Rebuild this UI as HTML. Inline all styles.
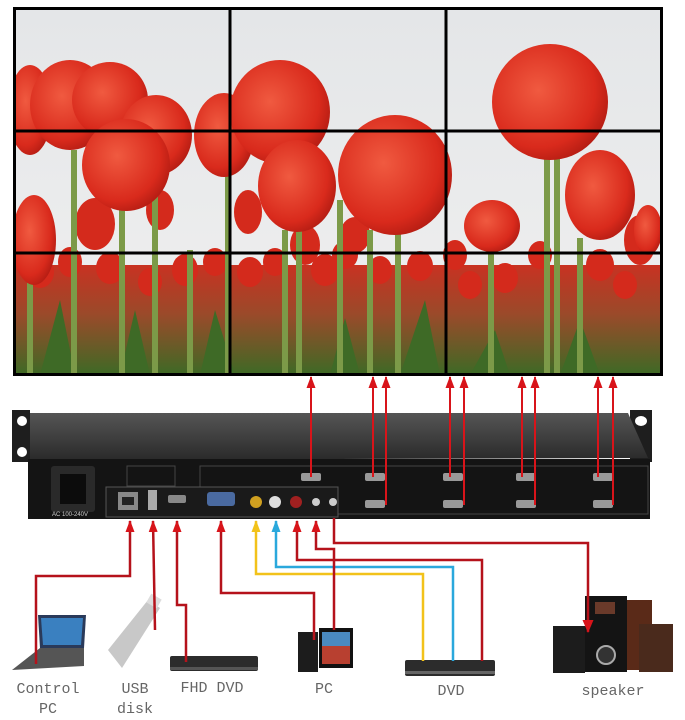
<!DOCTYPE html>
<html><head><meta charset="utf-8"><style>
html,body{margin:0;padding:0;background:#fff;width:685px;height:720px;overflow:hidden}
svg{display:block}
text.l{font-family:"Liberation Mono","Noto Serif CJK SC",monospace;font-size:15px;fill:#666}
</style></head><body>
<svg width="685" height="720" viewBox="0 0 685 720" xmlns="http://www.w3.org/2000/svg">
<defs>
<linearGradient id="sky" x1="0" y1="0" x2="0" y2="1"><stop offset="0" stop-color="#e4e6e8"/><stop offset="1" stop-color="#f0f0f0"/></linearGradient>
<radialGradient id="tul" cx="0.4" cy="0.4" r="0.7"><stop offset="0" stop-color="#f05a40"/><stop offset="0.7" stop-color="#d92a1c"/><stop offset="1" stop-color="#a81810"/></radialGradient>
<linearGradient id="grass" x1="0" y1="0" x2="0" y2="1"><stop offset="0" stop-color="#c83222"/><stop offset="0.45" stop-color="#9a4a2a"/><stop offset="1" stop-color="#3d6a25"/></linearGradient>
<linearGradient id="top" x1="0" y1="0" x2="0" y2="1"><stop offset="0" stop-color="#555"/><stop offset="1" stop-color="#2a2a2a"/></linearGradient>
<marker id="ar" markerWidth="12" markerHeight="9" refX="11" refY="4.5" orient="auto" markerUnits="userSpaceOnUse"><path d="M0,0 L12,4.5 L0,9 Z" fill="#d8141a"/></marker>
<marker id="ay" markerWidth="12" markerHeight="9" refX="11" refY="4.5" orient="auto" markerUnits="userSpaceOnUse"><path d="M0,0 L12,4.5 L0,9 Z" fill="#f2c21a"/></marker>
<marker id="ab" markerWidth="12" markerHeight="9" refX="11" refY="4.5" orient="auto" markerUnits="userSpaceOnUse"><path d="M0,0 L12,4.5 L0,9 Z" fill="#2aa8dc"/></marker>
<marker id="ad" markerWidth="13" markerHeight="11" refX="12" refY="5.5" orient="auto" markerUnits="userSpaceOnUse"><path d="M0,0 L13,5.5 L0,11 Z" fill="#d8141a"/></marker>
<clipPath id="wc"><rect x="14" y="8" width="648" height="367"/></clipPath>
</defs>

<g clip-path="url(#wc)">
<rect x="14" y="8" width="648" height="367" fill="url(#sky)"/>
<rect x="14" y="265" width="648" height="110" fill="url(#grass)"/>
<g fill="#d42a1c">
<ellipse cx="40" cy="272" rx="14" ry="16"/><ellipse cx="70" cy="262" rx="12" ry="15"/><ellipse cx="110" cy="268" rx="14" ry="16"/>
<ellipse cx="150" cy="282" rx="12" ry="14"/><ellipse cx="185" cy="270" rx="13" ry="16"/><ellipse cx="215" cy="262" rx="12" ry="14"/>
<ellipse cx="250" cy="272" rx="13" ry="15"/><ellipse cx="275" cy="262" rx="12" ry="14"/><ellipse cx="325" cy="270" rx="14" ry="16"/>
<ellipse cx="345" cy="255" rx="13" ry="14"/><ellipse cx="380" cy="270" rx="12" ry="14"/><ellipse cx="420" cy="266" rx="13" ry="15"/>
<ellipse cx="455" cy="255" rx="12" ry="15"/><ellipse cx="470" cy="285" rx="12" ry="14"/><ellipse cx="505" cy="278" rx="13" ry="15"/>
<ellipse cx="540" cy="255" rx="12" ry="14"/><ellipse cx="600" cy="265" rx="14" ry="16"/><ellipse cx="640" cy="240" rx="16" ry="25"/>
<ellipse cx="625" cy="285" rx="12" ry="14"/><ellipse cx="95" cy="224" rx="20" ry="26"/><ellipse cx="160" cy="210" rx="14" ry="20"/>
<ellipse cx="248" cy="212" rx="14" ry="22"/><ellipse cx="305" cy="245" rx="15" ry="20"/><ellipse cx="355" cy="235" rx="15" ry="18"/>
</g>
<g fill="#3e6a26">
<path d="M40,375 L60,300 L75,375Z"/><path d="M120,375 L135,310 L150,375Z"/><path d="M200,375 L215,310 L235,375Z"/>
<path d="M330,375 L345,318 L360,375Z"/><path d="M400,375 L425,300 L440,375Z"/><path d="M470,375 L495,330 L510,375Z"/><path d="M560,375 L580,320 L600,375Z"/>
</g>
<g stroke="#7c9a48" stroke-width="6">
<line x1="74" y1="150" x2="74" y2="375"/><line x1="122" y1="205" x2="122" y2="375"/><line x1="155" y1="170" x2="155" y2="375"/>
<line x1="228" y1="175" x2="228" y2="375"/><line x1="299" y1="228" x2="299" y2="375"/><line x1="285" y1="230" x2="285" y2="375"/>
<line x1="340" y1="200" x2="340" y2="375"/><line x1="370" y1="230" x2="370" y2="375"/><line x1="398" y1="232" x2="398" y2="375"/>
<line x1="547" y1="158" x2="547" y2="375"/><line x1="557" y1="158" x2="557" y2="375"/><line x1="580" y1="238" x2="580" y2="375"/>
<line x1="491" y1="250" x2="491" y2="375"/><line x1="30" y1="280" x2="30" y2="375"/><line x1="190" y1="250" x2="190" y2="375"/>
</g>
<g fill="url(#tul)">
<ellipse cx="30" cy="110" rx="22" ry="45"/>
<ellipse cx="70" cy="105" rx="40" ry="45"/>
<ellipse cx="110" cy="100" rx="38" ry="38"/>
<ellipse cx="156" cy="135" rx="36" ry="40"/>
<ellipse cx="224" cy="135" rx="30" ry="42"/>
<ellipse cx="126" cy="165" rx="44" ry="46"/>
<ellipse cx="280" cy="112" rx="50" ry="52"/>
<ellipse cx="297" cy="186" rx="39" ry="46"/>
<ellipse cx="395" cy="175" rx="57" ry="60"/>
<ellipse cx="550" cy="102" rx="58" ry="58"/>
<ellipse cx="600" cy="195" rx="35" ry="45"/>
<ellipse cx="492" cy="226" rx="28" ry="26"/>
<ellipse cx="34" cy="240" rx="22" ry="45"/>
<ellipse cx="648" cy="230" rx="14" ry="25"/>
</g>
<g stroke="#000" stroke-width="3" fill="none">
<line x1="230" y1="8" x2="230" y2="375"/><line x1="446" y1="8" x2="446" y2="375"/>
<line x1="14" y1="131" x2="662" y2="131"/><line x1="14" y1="253" x2="662" y2="253"/>
</g>
</g>
<rect x="14.5" y="8.5" width="647" height="366" fill="none" stroke="#000" stroke-width="3"/>

<path d="M12,410 L30,410 L30,462 L12,462Z" fill="#1e1e1e"/>
<circle cx="22" cy="421" r="5" fill="#fff"/><circle cx="22" cy="452" r="5" fill="#fff"/>
<path d="M630,410 L652,410 L652,462 L630,462Z" fill="#1e1e1e"/>
<ellipse cx="641" cy="421" rx="6" ry="5" fill="#fff"/>
<path d="M30,413 L628,413 L648,458 L30,460Z" fill="url(#top)"/>
<rect x="28" y="459" width="622" height="60" fill="#141414"/>
<rect x="51" y="466" width="44" height="46" fill="#2a2a2a" rx="3"/>
<rect x="60" y="474" width="26" height="30" fill="#0c0c0c"/>
<text x="52" y="516" font-family="Liberation Sans,sans-serif" font-size="6" fill="#ccc">AC 100-240V</text>
<rect x="127" y="466" width="48" height="20" fill="none" stroke="#444"/>
<rect x="200" y="466" width="448" height="48" fill="none" stroke="#444"/>
<rect x="106" y="487" width="232" height="30" fill="#1a1a1a" stroke="#555"/>
<rect x="118" y="492" width="20" height="18" fill="#888"/><rect x="122" y="497" width="12" height="8" fill="#222"/>
<rect x="148" y="490" width="9" height="20" fill="#aaa"/>
<rect x="168" y="495" width="18" height="8" fill="#888" rx="2"/>
<rect x="207" y="492" width="28" height="14" fill="#4a6aa0" rx="3"/>
<circle cx="256" cy="502" r="6" fill="#d0a020"/><circle cx="275" cy="502" r="6" fill="#ddd"/><circle cx="296" cy="502" r="6" fill="#a02020"/>
<circle cx="316" cy="502" r="4" fill="#ccc"/><circle cx="333" cy="502" r="4" fill="#ccc"/>
<g fill="#999">
<rect x="301" y="473" width="20" height="8" rx="2"/><rect x="365" y="473" width="20" height="8" rx="2"/><rect x="443" y="473" width="20" height="8" rx="2"/>
<rect x="516" y="473" width="20" height="8" rx="2"/><rect x="593" y="473" width="20" height="8" rx="2"/>
<rect x="365" y="500" width="20" height="8" rx="2"/><rect x="443" y="500" width="20" height="8" rx="2"/><rect x="516" y="500" width="20" height="8" rx="2"/><rect x="593" y="500" width="20" height="8" rx="2"/>
</g>

<g stroke="#d8141a" stroke-width="2" fill="none" marker-end="url(#ar)">
<line x1="311" y1="477" x2="311" y2="377"/>
<line x1="373" y1="477" x2="373" y2="377"/><line x1="386" y1="505" x2="386" y2="377"/>
<line x1="450" y1="477" x2="450" y2="377"/><line x1="464" y1="505" x2="464" y2="377"/>
<line x1="522" y1="477" x2="522" y2="377"/><line x1="535" y1="505" x2="535" y2="377"/>
<line x1="598" y1="477" x2="598" y2="377"/><line x1="613" y1="505" x2="613" y2="377"/>
</g>

<path d="M38,615 L86,615 L84,648 L40,648Z" fill="#2a3a5a"/>
<path d="M41,618 L83,618 L81,645 L43,645Z" fill="#3a80c0"/>
<path d="M40,648 L84,648 L84,666 L12,670 Z" fill="#555"/>
<path d="M108,650 L148,600 L160,608 L122,668 Z" fill="#c8c8c8"/>
<rect x="148" y="596" width="12" height="10" fill="#ddd" transform="rotate(30 154 601)"/>
<rect x="170" y="656" width="88" height="15" fill="#2c2c2c" rx="2"/><rect x="170" y="667" width="88" height="3" fill="#555"/>
<rect x="298" y="632" width="20" height="40" fill="#1c1c1c"/>
<rect x="319" y="628" width="34" height="40" fill="#111"/><rect x="322" y="632" width="28" height="32" fill="#b84030"/>
<rect x="322" y="632" width="28" height="14" fill="#4a8ac0"/>
<rect x="405" y="660" width="90" height="16" fill="#2c2c2c" rx="2"/><rect x="405" y="671" width="90" height="3" fill="#666"/>
<rect x="618" y="600" width="34" height="70" fill="#5a2a18"/>
<rect x="553" y="626" width="32" height="47" fill="#1c1c1c"/>
<rect x="639" y="624" width="34" height="48" fill="#4a2a1c"/>
<rect x="585" y="596" width="42" height="76" fill="#141414"/>
<circle cx="606" cy="655" r="9" fill="#333" stroke="#aaa" stroke-width="2"/>
<rect x="595" y="602" width="20" height="12" fill="#6a3a2a"/>

<g stroke-width="2.5" fill="none">
<polyline points="36,664 36,576 130,576 130,521" stroke="#b5121b" marker-end="url(#ar)"/>
<polyline points="155,630 153,521" stroke="#b5121b" marker-end="url(#ar)"/>
<polyline points="186,662 186,605 177,605 177,521" stroke="#b5121b" marker-end="url(#ar)"/>
<polyline points="314,640 314,593 221,593 221,521" stroke="#b5121b" marker-end="url(#ar)"/>
<polyline points="423,661 423,574 256,574 256,521" stroke="#f2c21a" marker-end="url(#ay)"/>
<polyline points="453,661 453,567 276,567 276,521" stroke="#2aa8dc" marker-end="url(#ab)"/>
<polyline points="482,661 482,560 297,560 297,521" stroke="#b5121b" marker-end="url(#ar)"/>
<polyline points="334,630 334,549 316,549 316,521" stroke="#b5121b" marker-end="url(#ar)"/>
<polyline points="334,518 334,543 588,543 588,632" stroke="#b5121b" marker-end="url(#ad)"/>
</g>

<text class="l" x="48" y="693" text-anchor="middle">Control</text>
<text class="l" x="48" y="713" text-anchor="middle">PC</text>
<text class="l" x="135" y="693" text-anchor="middle">USB</text>
<text class="l" x="135" y="713" text-anchor="middle">disk</text>
<text class="l" x="212" y="692" text-anchor="middle">FHD DVD</text>
<text class="l" x="324" y="693" text-anchor="middle">PC</text>
<text class="l" x="451" y="695" text-anchor="middle">DVD</text>
<text class="l" x="613" y="695" text-anchor="middle">speaker</text>
</svg>
</body></html>
